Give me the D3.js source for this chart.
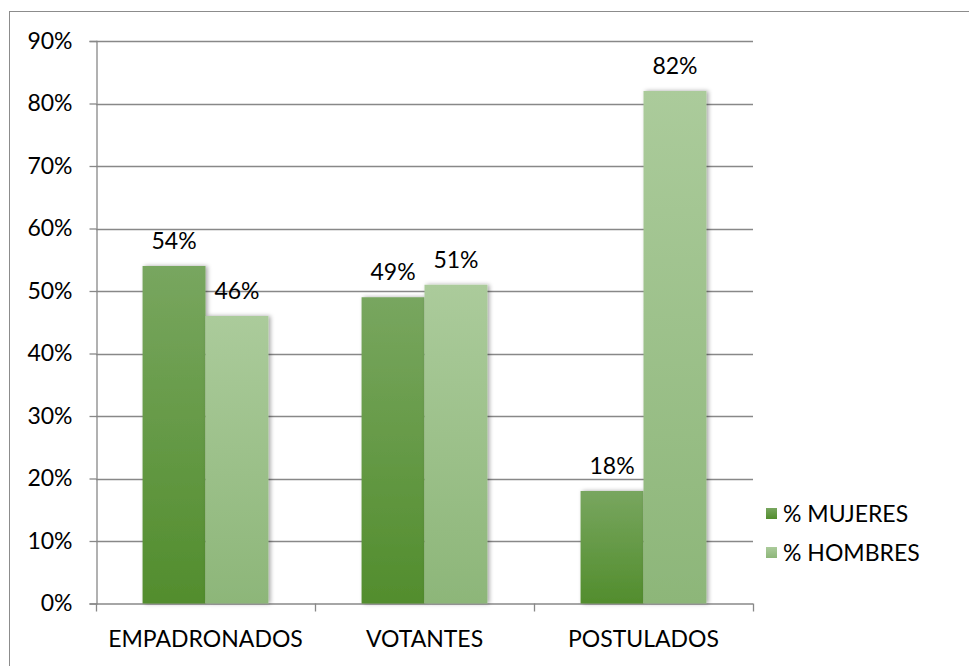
<!DOCTYPE html>
<html>
<head>
<meta charset="utf-8">
<script src="https://cdn.jsdelivr.net/npm/d3@7"></script>
<style>
  body { margin: 0; background: #fff; }
  text { font-family: Lato, "Open Sans", sans-serif; fill: #000; }
</style>
</head>
<body>
<div id="chart"></div>
<script>
// Data
var categories = ["EMPADRONADOS", "VOTANTES", "POSTULADOS"];
var seriesNames = ["% MUJERES", "% HOMBRES"];
var mujeres = [54, 49, 18];
var hombres = [46, 51, 82];
var mujeresLabels = ["54%", "49%", "18%"];
var hombresLabels = ["46%", "51%", "82%"];
var yTicks = [0, 10, 20, 30, 40, 50, 60, 70, 80, 90];

function drawChart() {
  var width = 969;
  var height = 666;
  var left = 96, right = 753, top = 41, bottom = 603.5;
  var fontSize = 23;

  var svg = d3.select("#chart")
    .append("svg")
    .attr("width", width)
    .attr("height", height);

  var defs = svg.append("defs");

  var g1 = defs.append("linearGradient").attr("id", "gradM")
    .attr("x1", 0).attr("y1", 0).attr("x2", 0).attr("y2", 1);
  g1.append("stop").attr("offset", "0%").attr("stop-color", "#78a65f");
  g1.append("stop").attr("offset", "100%").attr("stop-color", "#528d2d");

  var g2 = defs.append("linearGradient").attr("id", "gradH")
    .attr("x1", 0).attr("y1", 0).attr("x2", 0).attr("y2", 1);
  g2.append("stop").attr("offset", "0%").attr("stop-color", "#abcb9b");
  g2.append("stop").attr("offset", "100%").attr("stop-color", "#8db679");

  var shadow = defs.append("filter").attr("id", "shadow")
    .attr("x", "-20%").attr("y", "-5%").attr("width", "140%").attr("height", "110%");
  shadow.append("feDropShadow")
    .attr("dx", 2).attr("dy", 0).attr("stdDeviation", 2)
    .attr("flood-color", "#000").attr("flood-opacity", 0.35);

  // outer border
  svg.append("rect")
    .attr("x", 9.5).attr("y", 11.5)
    .attr("width", width + 20).attr("height", height + 20)
    .attr("fill", "none")
    .attr("stroke", "#8c8c8c")
    .attr("stroke-width", 1);

  var x0 = d3.scaleBand()
    .domain(categories)
    .range([left, right])
    .padding(0);

  var x1 = d3.scaleBand()
    .domain(seriesNames)
    .range([0, x0.bandwidth()])
    .paddingInner(0)
    .paddingOuter(0.74);

  var yScale = d3.scaleLinear()
    .domain([0, 90])
    .range([bottom, top]);

  // gridlines
  svg.append("g")
    .selectAll("line")
    .data(yTicks.slice(1))
    .enter()
    .append("line")
    .attr("x1", left).attr("x2", right)
    .attr("y1", function(d) { return Math.round(yScale(d)) + 0.5; })
    .attr("y2", function(d) { return Math.round(yScale(d)) + 0.5; })
    .attr("stroke", "#888")
    .attr("stroke-width", 1.3);

  var yAxis = d3.axisLeft(yScale)
    .tickValues(yTicks)
    .tickFormat(function(d) { return d + "%"; })
    .tickSize(7)
    .tickPadding(17);

  var gy = svg.append("g")
    .attr("transform", "translate(" + (left + 0.5) + ",0)")
    .call(yAxis);
  gy.select(".domain").attr("stroke", "#888").attr("stroke-width", 1.3);
  gy.selectAll(".tick line").attr("stroke", "#888").attr("stroke-width", 1.3);
  gy.selectAll("text").attr("font-size", fontSize).attr("fill", "#000");

  var xAxis = d3.axisBottom(x0).tickSize(0).tickPadding(27);
  var gx = svg.append("g")
    .attr("transform", "translate(0," + (bottom + 0.5) + ")")
    .call(xAxis);
  gx.select(".domain").remove();
  gx.selectAll("text").attr("font-size", fontSize).attr("fill", "#000");

  // baseline and category boundary ticks
  svg.append("line")
    .attr("x1", left).attr("x2", right)
    .attr("y1", bottom + 0.5).attr("y2", bottom + 0.5)
    .attr("stroke", "#888").attr("stroke-width", 1.3);

  var bounds = categories.map(function(c) { return x0(c); }).concat([right]);
  svg.append("g")
    .selectAll("line")
    .data(bounds)
    .enter()
    .append("line")
    .attr("x1", function(d) { return Math.round(d) + 0.5; })
    .attr("x2", function(d) { return Math.round(d) + 0.5; })
    .attr("y1", bottom)
    .attr("y2", bottom + 8)
    .attr("stroke", "#888").attr("stroke-width", 1.3);

  var series = [
    { name: seriesNames[0], values: mujeres, labels: mujeresLabels, fill: "url(#gradM)" },
    { name: seriesNames[1], values: hombres, labels: hombresLabels, fill: "url(#gradH)" }
  ];

  series.forEach(function(s) {
    svg.append("g")
      .selectAll("rect")
      .data(categories)
      .enter()
      .append("rect")
      .attr("x", function(c) { return x0(c) + x1(s.name); })
      .attr("y", function(c, i) { return yScale(s.values[i]); })
      .attr("width", x1.bandwidth())
      .attr("height", function(c, i) { return bottom - yScale(s.values[i]); })
      .attr("fill", s.fill)
      .attr("filter", "url(#shadow)");
  });

  series.forEach(function(s) {
    svg.append("g")
      .selectAll("text")
      .data(categories)
      .enter()
      .append("text")
      .attr("x", function(c) { return x0(c) + x1(s.name) + x1.bandwidth() / 2; })
      .attr("y", function(c, i) { return yScale(s.values[i]) - 17; })
      .attr("text-anchor", "middle")
      .attr("font-size", fontSize)
      .text(function(c, i) { return s.labels[i]; });
  });

  // legend
  var legend = svg.append("g")
    .selectAll("g")
    .data(series)
    .enter()
    .append("g")
    .attr("transform", function(d, i) { return "translate(766," + (508 + i * 39) + ")"; });

  legend.append("rect")
    .attr("width", 11).attr("height", 11)
    .attr("fill", function(d) { return d.fill; });

  legend.append("text")
    .attr("x", 17).attr("y", 6)
    .attr("dy", "0.35em")
    .attr("font-size", fontSize)
    .text(function(d) { return d.name; });
}

drawChart();
</script>
</body>
</html>
